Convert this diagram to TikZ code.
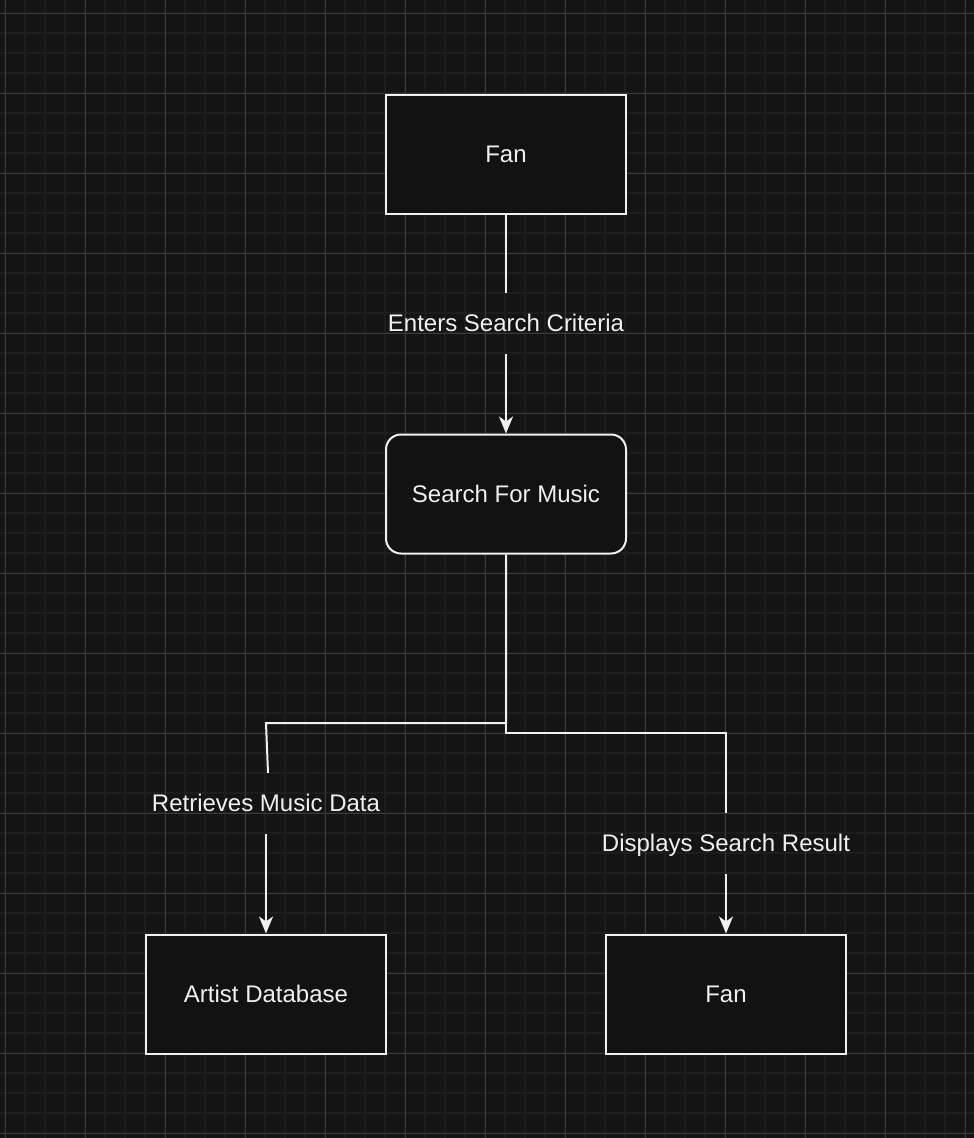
\documentclass[tikz,border=0pt]{standalone}
\usepackage{fontspec}
\setmainfont{Liberation Sans}
\usetikzlibrary{arrows.meta}
\definecolor{bgc}{HTML}{141414}
\definecolor{boxc}{HTML}{121212}
\definecolor{minorc}{HTML}{1D1D1D}
\definecolor{majorc}{HTML}{3A3A3A}
\definecolor{fgc}{HTML}{F0F0F0}
\tikzset{
  box/.style={draw=fgc, fill=boxc, line width=2pt, minimum width=240pt, minimum height=119pt, inner sep=0pt, text=fgc, font=\fontsize{24}{28}\selectfont, text height=19pt, text depth=3pt},
  rbox/.style={box, rounded corners=15pt},
  conn/.style={draw=fgc, line width=2pt},
  arr/.style={conn, -{Stealth[length=17pt,width=14pt,inset=5pt]}},
  lbl/.style={text=fgc, font=\fontsize{24}{28}\selectfont, inner xsep=3pt, inner ysep=19.5pt, text height=19pt, text depth=3pt}
}
\begin{document}
\begin{tikzpicture}[x=1pt,y=-1pt]
\useasboundingbox (0,0) rectangle (974,1138);
\fill[bgc] (0,0) rectangle (974,1138);
\foreach \x in {5,25,...,965} \draw[minorc,line width=1.3pt] (\x,0) -- (\x,1138);
\foreach \y in {13,33,...,1133} \draw[minorc,line width=1.3pt] (0,\y) -- (974,\y);
\foreach \x in {5,85,...,965} \draw[majorc,line width=1pt] (\x,0) -- (\x,1138);
\foreach \y in {13,93,...,1133} \draw[majorc,line width=1pt] (0,\y) -- (974,\y);

\node[box] (fan1) at (506,154) {Fan};
\node[rbox] (search) at (506,494) {Search For Music};
\node[box] (artist) at (266,994) {Artist Database};
\node[box] (fan2) at (726,994) {Fan};

\node[lbl] (t1) at (506,323.5) {Enters Search Criteria};
\node[lbl] (t2) at (266,803.5) {Retrieves Music Data};
\node[lbl] (t3) at (726,843.5) {Displays Search Result};

\coordinate (l1) at (506,723);
\coordinate (l2) at (266,723);
\coordinate (l3) at ([xshift=2pt]t2.north);
\coordinate (r1) at (506,733);
\coordinate (r2) at (726,733);

\draw[conn] (fan1.south) -- (t1.north);
\draw[arr] (t1.south) -- (search.north);
\draw[conn] (search.south) -- (l1) -- (l2) -- (l3);
\draw[arr] (t2.south) -- (artist.north);
\draw[conn] (search.south) -- (r1) -- (r2) -- (t3.north);
\draw[arr] (t3.south) -- (fan2.north);
\end{tikzpicture}
\end{document}
